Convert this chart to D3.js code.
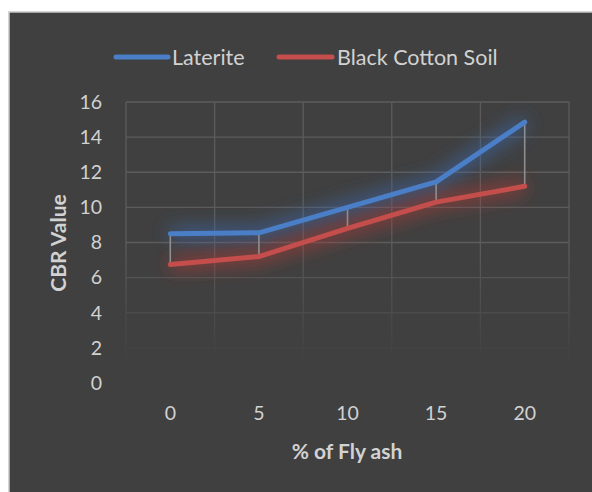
<!DOCTYPE html>
<html><head><meta charset="utf-8">
<script src="https://cdn.jsdelivr.net/npm/d3@7"></script>
<style>html,body{margin:0;padding:0;background:#fff;}svg{display:block;}</style>
</head><body>
<script>
const categories = ["0", "5", "10", "15", "20"];
const laterite = [8.5, 8.55, 10.0, 11.45, 14.85];
const blackCotton = [6.75, 7.2, 8.8, 10.3, 11.2];
const yTicks = [0, 2, 4, 6, 8, 10, 12, 14, 16];
const seriesNames = ["Laterite", "Black Cotton Soil"];

const W = 592, H = 492;
const svg = d3.select("body").append("svg").attr("width", W).attr("height", H);
const defs = svg.append("defs");

const font = "Lato, 'Open Sans', sans-serif";
const txt = "#d2d2d2";

// chart background
svg.append("rect").attr("x", 9).attr("y", 12).attr("width", W + 20).attr("height", H + 20)
  .attr("fill", "#404040").attr("stroke", "#c8c8c8").attr("stroke-width", 1.5);

const x = d3.scaleBand().domain(categories).range([126, 569]).padding(0);
const y = d3.scaleLinear().domain([0, 16]).range([383, 102]);

// fading mask for grid
const grad = defs.append("linearGradient").attr("id", "fade")
  .attr("gradientUnits", "userSpaceOnUse").attr("x1", 0).attr("x2", 0).attr("y1", 100).attr("y2", 385);
grad.append("stop").attr("offset", 0).attr("stop-color", "#fff");
grad.append("stop").attr("offset", 0.5).attr("stop-color", "#fff");
grad.append("stop").attr("offset", 0.93).attr("stop-color", "#000");
defs.append("mask").attr("id", "gridMask").append("rect")
  .attr("x", 0).attr("y", 0).attr("width", W).attr("height", H).attr("fill", "url(#fade)");

const grid = svg.append("g").attr("mask", "url(#gridMask)").attr("stroke", "#5c5c5c").attr("stroke-width", 1.3);
grid.selectAll("line.h").data(yTicks).join("line").attr("class", "h")
  .attr("x1", 126).attr("x2", 569).attr("y1", d => y(d)).attr("y2", d => y(d));
const bounds = categories.map(c => x(c)).concat([x(categories[categories.length - 1]) + x.bandwidth()]);
grid.selectAll("line.v").data(bounds).join("line").attr("class", "v")
  .attr("x1", d => d).attr("x2", d => d).attr("y1", y(16)).attr("y2", y(0));

// Y tick labels
svg.append("g").selectAll("text").data(yTicks).join("text")
  .attr("x", 102).attr("y", d => y(d)).attr("dy", "0.35em").attr("text-anchor", "end")
  .attr("font-family", font).attr("font-size", 19.5).attr("fill", txt).text(d => d);

// X tick labels
svg.append("g").selectAll("text").data(categories).join("text")
  .attr("x", d => x(d) + x.bandwidth() / 2).attr("y", 420).attr("text-anchor", "middle")
  .attr("font-family", font).attr("font-size", 19.5).attr("fill", txt).text(d => d);

// Axis titles
svg.append("text").attr("x", 347).attr("y", 459).attr("text-anchor", "middle")
  .attr("font-family", font).attr("font-weight", "bold").attr("font-size", 21).attr("fill", txt).text("% of Fly ash");
svg.append("text").attr("transform", "translate(66,243) rotate(-90)").attr("text-anchor", "middle")
  .attr("font-family", font).attr("font-weight", "bold").attr("font-size", 21).attr("fill", txt).text("CBR Value");

// glow filters (glow only, no source)
function glow(id, color) {
  const f = defs.append("filter").attr("id", id).attr("x", "-20%").attr("y", "-60%").attr("width", "140%").attr("height", "220%");
  f.append("feGaussianBlur").attr("in", "SourceAlpha").attr("stdDeviation", 9).attr("result", "b");
  f.append("feFlood").attr("flood-color", color).attr("flood-opacity", 0.75);
  f.append("feComposite").attr("in2", "b").attr("operator", "in");
}
glow("glowBlue", "#3a68ad");
glow("glowRed", "#b23b37");

const cx = c => x(c) + x.bandwidth() / 2;
const line = d3.line().x((d, i) => cx(categories[i])).y(d => y(d));

// glow layers underneath
svg.append("path").datum(laterite).attr("d", line).attr("fill", "none").attr("stroke", "#000")
  .attr("stroke-width", 12).attr("stroke-linejoin", "round").attr("filter", "url(#glowBlue)");
svg.append("path").datum(blackCotton).attr("d", line).attr("fill", "none").attr("stroke", "#000")
  .attr("stroke-width", 12).attr("stroke-linejoin", "round").attr("filter", "url(#glowRed)");

// drop lines
svg.append("g").selectAll("line").data(categories).join("line")
  .attr("x1", d => cx(d)).attr("x2", d => cx(d))
  .attr("y1", (d, i) => y(laterite[i])).attr("y2", (d, i) => y(blackCotton[i]))
  .attr("stroke", "#8e8e8e").attr("stroke-width", 1.6);

// lines on top
svg.append("path").datum(laterite).attr("d", line).attr("fill", "none").attr("stroke", "#4a7ec6")
  .attr("stroke-width", 5).attr("stroke-linejoin", "round").attr("stroke-linecap", "round");
svg.append("path").datum(blackCotton).attr("d", line).attr("fill", "none").attr("stroke", "#c34e4b")
  .attr("stroke-width", 5).attr("stroke-linejoin", "round").attr("stroke-linecap", "round");

// legend
const legend = [
  { name: seriesNames[0], color: "#4a7ec6", x1: 116, x2: 168, tx: 172 },
  { name: seriesNames[1], color: "#c34e4b", x1: 279, x2: 332, tx: 337 }
];
const lg = svg.append("g");
legend.forEach(l => {
  lg.append("line").attr("x1", l.x1).attr("x2", l.x2).attr("y1", 57).attr("y2", 57)
    .attr("stroke", l.color).attr("stroke-width", 5).attr("stroke-linecap", "round");
  lg.append("text").attr("x", l.tx).attr("y", 57).attr("dy", "0.35em")
    .attr("font-family", font).attr("font-size", 21.5).attr("fill", txt).text(l.name);
});
</script>
</body></html>
